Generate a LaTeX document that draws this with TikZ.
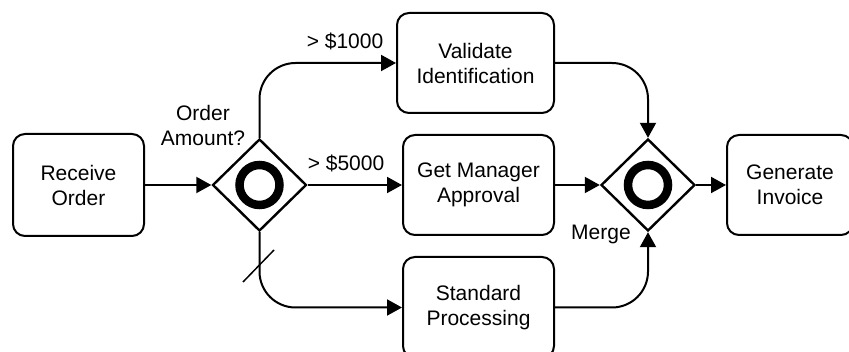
\documentclass[tikz,border=0pt]{standalone}
\usepackage{fontspec}
\setmainfont{Liberation Sans}
\usetikzlibrary{shapes.geometric,arrows.meta}
\begin{document}
\begin{tikzpicture}[x=1pt,y=-1pt,
  every node/.style={font=\fontsize{21}{25}\selectfont},
  task/.style={draw, line width=2pt, rounded corners=12pt, align=center, inner sep=0pt},
  gateway/.style={draw, diamond, line width=2.4pt, minimum width=94pt, minimum height=92pt, inner sep=0pt},
  flow/.style={line width=2pt, -{Triangle[length=15pt,width=16pt]}},
  roundflow/.style={flow, rounded corners=36pt},
  lbl/.style={align=center, inner sep=0pt}]
  \useasboundingbox (0,0) rectangle (849,352);

  % activities
  \node[task, minimum width=131pt, minimum height=102pt] (receive) at (78.5,185) {Receive\\Order};
  \node[task, minimum width=157pt, minimum height=100pt] (validate) at (475.5,63) {Validate\\Identification};
  \node[task, minimum width=151pt, minimum height=100pt] (manager) at (478.5,185) {Get Manager\\Approval};
  \node[task, minimum width=151pt, minimum height=101pt] (standard) at (478.5,307.5) {Standard\\Processing};
  \node[task, minimum width=126pt, minimum height=100pt] (invoice) at (790,185) {Generate\\Invoice};

  % inclusive gateways
  \node[gateway] (g1) at (259.5,185) {};
  \node[gateway] (g2) at (648,185) {};
  \draw[line width=8.5pt] (g1.center) circle[radius=20pt];
  \draw[line width=8.5pt] (g2.center) circle[radius=20pt];

  % sequence flows
  \draw[flow] (receive.east) -- (g1.west);
  \draw[roundflow] (g1.north) |- (validate.west);
  \draw[flow] (g1.east) -- (manager.west);
  \draw[roundflow] (g1.south) |- (standard.west);
  \draw[roundflow] (validate.east) -| (g2.north);
  \draw[flow] (manager.east) -- (g2.west);
  \draw[roundflow] (standard.east) -| (g2.south);
  \draw[flow] (g2.east) -- (invoice.west);

  % default flow marker
  \coordinate (s1) at (243,282);
  \coordinate (s2) at (274,250);
  \draw[line width=1.5pt] (s1) -- (s2);

  % labels
  \node[lbl] (qlabel) at (203,125) {Order\\Amount?};
  \node[lbl, anchor=base] (l1000) at (345,48.5) {> \$1000};
  \node[lbl, anchor=base] (l5000) at (346,170.5) {> \$5000};
  \node[lbl, anchor=base] (merge) at (601,240) {Merge};
\end{tikzpicture}
\end{document}
